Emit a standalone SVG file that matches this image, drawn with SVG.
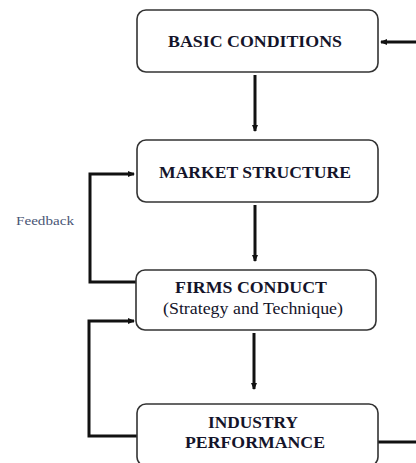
<svg xmlns="http://www.w3.org/2000/svg" width="416" height="463" viewBox="0 0 416 463">
<defs>
<style>
.box{fill:#fff;stroke:#333;stroke-width:1.6}
.t{font-family:"Liberation Serif","Times New Roman",serif;font-weight:bold;font-size:17.5px;fill:#14142a;text-anchor:middle}
.s{font-family:"Liberation Serif","Times New Roman",serif;font-size:16.5px;fill:#14142a;text-anchor:middle}
.fb{font-family:"Liberation Serif","Times New Roman",serif;font-size:13px;fill:#4a5675}
.c{fill:none;stroke:#111;stroke-width:3}
</style>
<marker id="ah" markerUnits="userSpaceOnUse" markerWidth="8" markerHeight="8" refX="6" refY="4" orient="auto">
<path d="M0,1 L7,4 L0,7 Z" fill="#111"/>
</marker>
</defs>
<g id="connectors">
<line class="c" x1="255" y1="75" x2="255" y2="131" marker-end="url(#ah)"/>
<line class="c" x1="255" y1="205" x2="255" y2="261" marker-end="url(#ah)"/>
<line class="c" x1="254" y1="333" x2="254" y2="389" marker-end="url(#ah)"/>
<line class="c" x1="416" y1="42" x2="381" y2="42" marker-end="url(#ah)"/>
<line class="c" x1="378" y1="442" x2="416" y2="442"/>
<polyline class="c" points="136,282 90,282 90,174 134,174" marker-end="url(#ah)"/>
<polyline class="c" points="137,436 89,436 89,321 134,321" marker-end="url(#ah)"/>
</g>
<g id="basic">
<rect class="box" x="137" y="10" width="241" height="62" rx="9"/>
<text class="t" x="255" y="47" textLength="174" lengthAdjust="spacingAndGlyphs">BASIC CONDITIONS</text>
</g>
<g id="market">
<rect class="box" x="137" y="140" width="241" height="62" rx="9"/>
<text class="t" x="255" y="178" textLength="192" lengthAdjust="spacingAndGlyphs">MARKET STRUCTURE</text>
</g>
<g id="firms">
<rect class="box" x="136" y="270" width="240" height="60" rx="9"/>
<text class="t" x="251" y="293" textLength="152" lengthAdjust="spacingAndGlyphs">FIRMS CONDUCT</text>
<text class="s" x="253" y="314" textLength="180" lengthAdjust="spacingAndGlyphs">(Strategy and Technique)</text>
</g>
<g id="industry">
<rect class="box" x="137" y="404" width="241" height="62" rx="9"/>
<text class="t" x="253" y="428" textLength="90" lengthAdjust="spacingAndGlyphs">INDUSTRY</text>
<text class="t" x="255" y="448" textLength="140" lengthAdjust="spacingAndGlyphs">PERFORMANCE</text>
</g>
<g id="feedback">
<text class="fb" x="16" y="225" textLength="58" lengthAdjust="spacingAndGlyphs">Feedback</text>
</g>
</svg>
